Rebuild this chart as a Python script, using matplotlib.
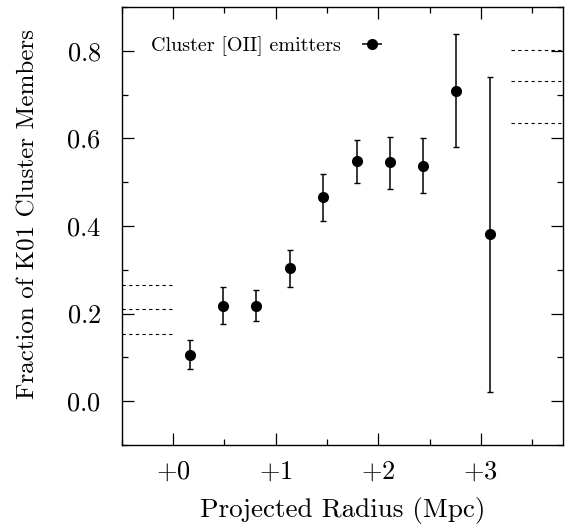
import matplotlib
matplotlib.use("Agg")
import matplotlib.pyplot as plt
from matplotlib.ticker import MultipleLocator, FuncFormatter

plt.rcParams['font.family'] = 'cmr10'
plt.rcParams['mathtext.fontset'] = 'cm'
plt.rcParams['axes.formatter.use_mathtext'] = True

# radial bins (Mpc) and member fractions
radius = [0.16, 0.49, 0.81, 1.14, 1.46, 1.79, 2.11, 2.44, 2.76, 3.09]
fraction = [0.106, 0.218, 0.218, 0.303, 0.465, 0.548, 0.545, 0.537, 0.709, 0.381]
err_hi = [0.140, 0.260, 0.254, 0.345, 0.518, 0.596, 0.603, 0.601, 0.839, 0.741]
err_lo = [0.073, 0.177, 0.183, 0.260, 0.412, 0.499, 0.485, 0.475, 0.580, 0.022]

# field reference levels (dotted) at the inner and outer edges
inner_levels = [0.265, 0.211, 0.153]
outer_levels = [0.802, 0.731, 0.636]
inner_span = (-0.5, 0.0)
outer_span = (3.29, 3.8)

lower = [f - l for f, l in zip(fraction, err_lo)]
upper = [h - f for f, h in zip(fraction, err_hi)]

fig = plt.figure(figsize=(5.72, 5.31), dpi=100)
ax = fig.add_axes([0.213, 0.162, 0.771, 0.825])

ax.errorbar(radius, fraction, yerr=[lower, upper], fmt='o', color='black',
            ms=7, elinewidth=1.1, capsize=2.5, capthick=1.0)

# legend proxy with a horizontal bar, like the original key
ax.errorbar([], [], xerr=[], fmt='o', color='black', ms=7, elinewidth=1.1,
            capsize=2.5, capthick=1.0, label='Cluster [OII] emitters')

for lev in inner_levels:
    ax.plot(inner_span, [lev, lev], color='black', ls=(0, (3, 3)), lw=0.8)
for lev in outer_levels:
    ax.plot(outer_span, [lev, lev], color='black', ls=(0, (3, 3)), lw=0.8)

ax.set_xlim(-0.5, 3.8)
ax.set_ylim(-0.1, 0.9)
ax.xaxis.set_major_locator(MultipleLocator(1))
ax.xaxis.set_minor_locator(MultipleLocator(0.5))
ax.yaxis.set_major_locator(MultipleLocator(0.2))
ax.yaxis.set_minor_locator(MultipleLocator(0.1))
ax.xaxis.set_major_formatter(FuncFormatter(lambda v, p: '$+%d$' % round(v)))
ax.yaxis.set_major_formatter(FuncFormatter(lambda v, p: '$%.1f$' % v))

ax.tick_params(which='both', direction='in', top=True, right=True,
               labelsize=19, width=0.9)
ax.tick_params(which='major', length=8.5)
ax.tick_params(axis='x', which='major', pad=11)
ax.tick_params(axis='y', which='major', pad=15)
ax.tick_params(which='minor', length=4.3)
for s in ax.spines.values():
    s.set_linewidth(1.0)

ax.set_xlabel('Projected Radius (Mpc)', fontsize=19.5, labelpad=9)
ax.set_ylabel('Fraction of K01 Cluster Members', fontsize=18)
ax.yaxis.set_label_coords(-0.187, 0.527)

ax.legend(loc='upper left', frameon=False, markerfirst=False, fontsize=14.5,
          handlelength=1.5, borderaxespad=0.6, bbox_to_anchor=(0.02, 0.98))

fig.savefig('out.png', dpi=100)
